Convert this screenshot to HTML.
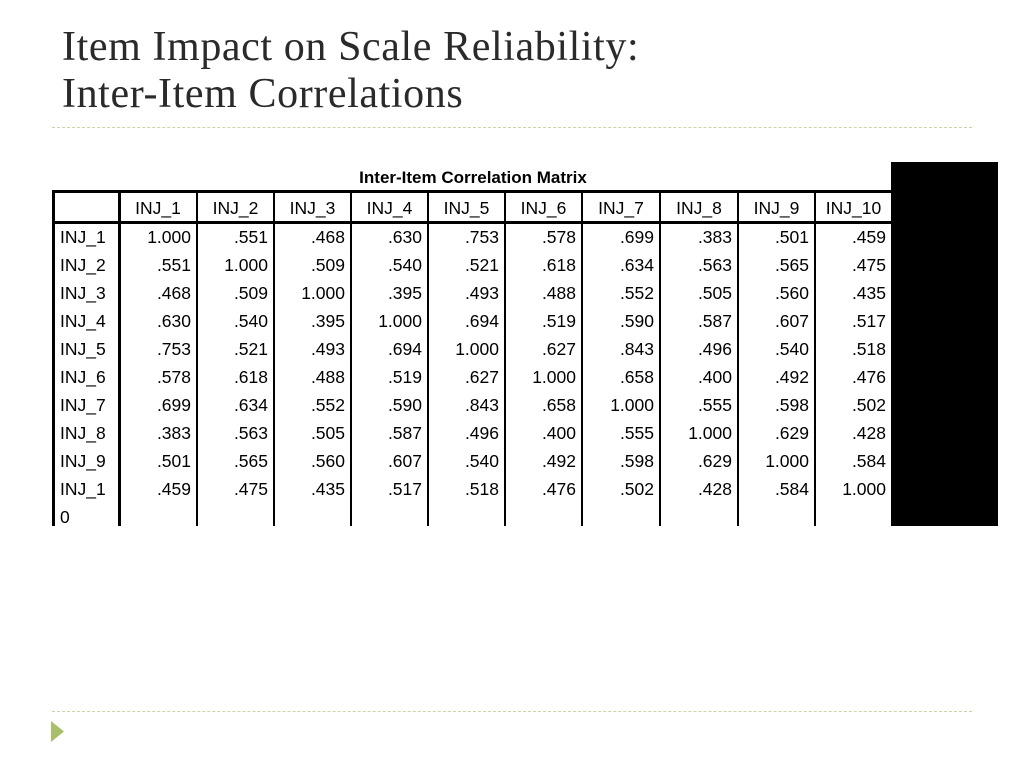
<!DOCTYPE html>
<html><head><meta charset="utf-8">
<style>
body{margin:0;width:1024px;height:768px;background:#fff;position:relative;overflow:hidden;font-family:"Liberation Sans",sans-serif}
.title{position:absolute;left:62px;top:24px;font-family:"Liberation Serif",serif;font-size:42px;line-height:47px;color:#2a2a2a;letter-spacing:0.6px;margin:0;font-weight:normal}
.dash{position:absolute;left:52px;width:920px;border-top:1.5px dashed #c9d4aa}
.cell{position:absolute;font-size:17.5px;color:#000;line-height:20px;white-space:nowrap}
.ln{position:absolute;background:#000}
</style></head><body>
<h1 class="title">Item Impact on Scale Reliability:<br>Inter-Item Correlations</h1>
<div class="dash" style="top:127px"></div>
<div class="dash" style="top:711px"></div>
<svg style="position:absolute;left:50px;top:720px" width="16" height="24"><polygon points="1,1 14,11.5 1,22" fill="#a9c06b"/></svg>
<div style="position:absolute;left:891px;top:162px;width:107px;height:364px;background:#000"></div>
<div class="cell" style="left:341px;top:168px;font-weight:bold;font-size:17px;width:264px;text-align:center">Inter-Item Correlation Matrix</div>
<div id="tbl"></div>
<script>
const labels=["INJ_1","INJ_2","INJ_3","INJ_4","INJ_5","INJ_6","INJ_7","INJ_8","INJ_9","INJ_10"];
const rowLabels=["INJ_1","INJ_2","INJ_3","INJ_4","INJ_5","INJ_6","INJ_7","INJ_8","INJ_9","INJ_1\n0"];
const values=[
["1.000",".551",".468",".630",".753",".578",".699",".383",".501",".459"],
[".551","1.000",".509",".540",".521",".618",".634",".563",".565",".475"],
[".468",".509","1.000",".395",".493",".488",".552",".505",".560",".435"],
[".630",".540",".395","1.000",".694",".519",".590",".587",".607",".517"],
[".753",".521",".493",".694","1.000",".627",".843",".496",".540",".518"],
[".578",".618",".488",".519",".627","1.000",".658",".400",".492",".476"],
[".699",".634",".552",".590",".843",".658","1.000",".555",".598",".502"],
[".383",".563",".505",".587",".496",".400",".555","1.000",".629",".428"],
[".501",".565",".560",".607",".540",".492",".598",".629","1.000",".584"],
[".459",".475",".435",".517",".518",".476",".502",".428",".584","1.000"]];
const colX=[52,119,197,274,351,428,505,582,660,738,815,892];
const top0=190,hdrBot=222,rowH=28,bottom=526;
const t=document.getElementById('tbl');
function add(cls,style,text,name){const d=document.createElement('div');d.className=cls;d.style.cssText=style;if(text!==undefined)d.textContent=text;


t.appendChild(d);return d;}
// horizontal lines
add('ln',`left:${colX[0]}px;top:${top0}px;width:${colX[11]-colX[0]}px;height:3px`,undefined,'table-top-border');
add('ln',`left:${colX[0]}px;top:${hdrBot-1}px;width:${colX[11]-colX[0]}px;height:3px`,undefined,'header-bottom-border');
// vertical lines
colX.forEach((x,i)=>{if(i===11)return;const w=(i<=1)?3:1.5;
add('ln',`left:${x-(i===0?0:1)}px;top:${top0}px;width:${w}px;height:${bottom-top0}px`,undefined,'column-line');});
// header
labels.forEach((l,i)=>{add('cell',`left:${colX[i+1]}px;top:${top0+8}px;width:${colX[i+2]-colX[i+1]}px;text-align:center`,l,'column-header');});
// rows
rowLabels.forEach((r,ri)=>{const y=hdrBot+5+ri*rowH;
const c=add('cell',`left:${colX[0]+8}px;top:${y}px;white-space:pre;line-height:28px;margin-top:-4px`,r,'row-header');
values[ri].forEach((v,ci)=>{add('cell',`left:${colX[ci+1]}px;top:${y}px;width:${colX[ci+2]-colX[ci+1]-6}px;text-align:right`,v,'correlation-value');});});
</script>
</body></html>
